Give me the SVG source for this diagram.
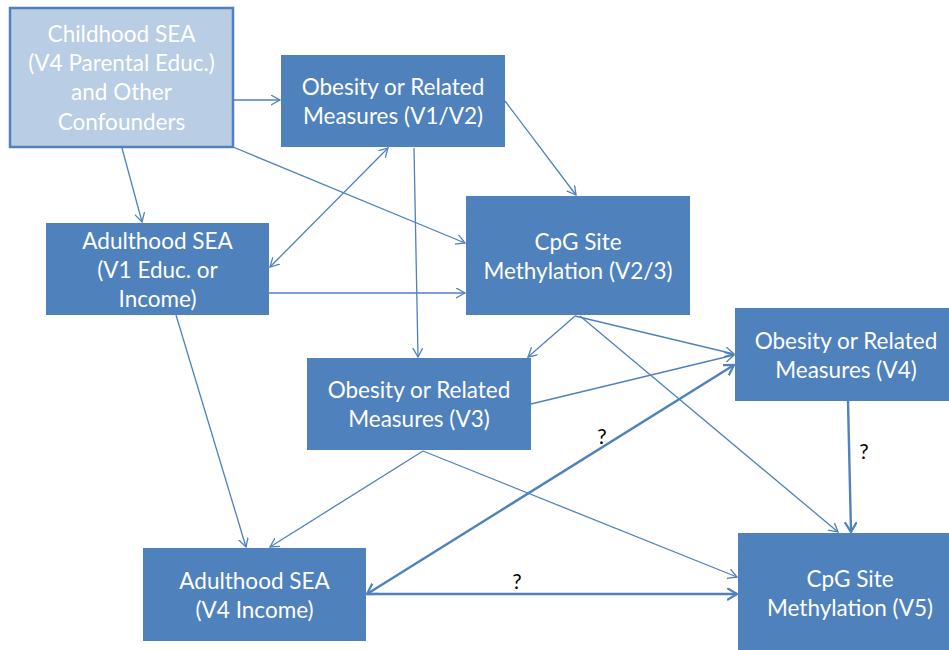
<svg xmlns="http://www.w3.org/2000/svg" width="949" height="650" viewBox="0 0 949 650">
<style>
.n{fill:#4f81bd;}
.lt{fill:#b9cde5;stroke:#4f81bd;stroke-width:2.5;}
.t{font-family:Lato,"Liberation Sans",sans-serif;font-size:22.5px;fill:#ffffff;text-anchor:middle;}
.c{fill:none;stroke:#4f81bd;stroke-width:1.3;}
.k{fill:none;stroke:#4f81bd;stroke-width:2.4;}
.q{font-family:Lato,"Liberation Sans",sans-serif;font-size:21px;fill:#000;text-anchor:middle;}
</style>
<defs>
<marker id="a" markerUnits="userSpaceOnUse" markerWidth="12" markerHeight="12" refX="9" refY="5" orient="auto-start-reverse" viewBox="0 0 12 12">
<path d="M0,0 L9,5 L0,10" fill="none" stroke="#4f81bd" stroke-width="1.3"/>
</marker>
<marker id="b" markerUnits="userSpaceOnUse" markerWidth="14" markerHeight="14" refX="10" refY="6" orient="auto-start-reverse" viewBox="0 0 14 14">
<path d="M0,0 L10,6 L0,12" fill="none" stroke="#4f81bd" stroke-width="2.2"/>
</marker>
</defs>
<rect width="949" height="650" fill="#ffffff"/>
<g id="connectors">
<line class="c" x1="233" y1="100" x2="280" y2="100" marker-end="url(#a)"/>
<line class="c" x1="122" y1="148" x2="142" y2="222" marker-end="url(#a)"/>
<line class="c" x1="233" y1="147" x2="465" y2="243" marker-end="url(#a)"/>
<line class="c" x1="388" y1="148" x2="270" y2="267" marker-start="url(#a)" marker-end="url(#a)"/>
<line class="c" x1="414" y1="148" x2="418" y2="357" marker-end="url(#a)"/>
<line class="c" x1="505" y1="101" x2="576" y2="195" marker-end="url(#a)"/>
<line class="c" x1="269" y1="293" x2="465" y2="293" marker-end="url(#a)"/>
<line class="c" x1="176" y1="315" x2="246" y2="547" marker-end="url(#a)"/>
<line class="c" x1="575" y1="316" x2="528" y2="357" marker-end="url(#a)"/>
<line class="c" x1="575" y1="316" x2="734" y2="354" marker-end="url(#a)"/>
<line class="c" x1="580" y1="316" x2="838" y2="532" marker-end="url(#a)"/>
<line class="c" x1="531" y1="404" x2="734" y2="355" marker-end="url(#a)"/>
<line class="c" x1="423" y1="451" x2="270" y2="547" marker-end="url(#a)"/>
<line class="c" x1="423" y1="451" x2="737" y2="577" marker-end="url(#a)"/>
<line class="k" x1="367" y1="594" x2="734" y2="365" marker-start="url(#b)" marker-end="url(#b)"/>
<line class="k" x1="367" y1="594" x2="737" y2="594" marker-end="url(#b)"/>
<line class="k" x1="848" y1="401" x2="851" y2="532" marker-end="url(#b)"/>
<text class="q" x="602" y="444">?</text>
<text class="q" x="517" y="589">?</text>
<text class="q" x="864" y="459">?</text>
</g>
<g id="n1">
<rect class="lt" x="10" y="8" width="223" height="139"/>
<text class="t" x="121.5" y="42">Childhood SEA</text>
<text class="t" x="121.5" y="71">(V4 Parental Educ.)</text>
<text class="t" x="121.5" y="100">and Other</text>
<text class="t" x="121.5" y="130">Confounders</text>
</g>
<g id="n2">
<rect class="n" x="281" y="55" width="224" height="92"/>
<text class="t" x="393" y="95">Obesity or Related</text>
<text class="t" x="393" y="124">Measures (V1/V2)</text>
</g>
<g id="n3">
<rect class="n" x="46" y="223" width="223" height="92"/>
<text class="t" x="157.5" y="249">Adulthood SEA</text>
<text class="t" x="157.5" y="278">(V1 Educ. or</text>
<text class="t" x="157.5" y="307">Income)</text>
</g>
<g id="n4">
<rect class="n" x="466" y="196" width="224" height="119"/>
<text class="t" x="578" y="250">CpG Site</text>
<text class="t" x="578" y="279">Methylation (V2/3)</text>
</g>
<g id="n5">
<rect class="n" x="307" y="358" width="224" height="92"/>
<text class="t" x="419" y="398">Obesity or Related</text>
<text class="t" x="419" y="427">Measures (V3)</text>
</g>
<g id="n6">
<rect class="n" x="735" y="308" width="220" height="93"/>
<text class="t" x="846" y="349">Obesity or Related</text>
<text class="t" x="846" y="378">Measures (V4)</text>
</g>
<g id="n7">
<rect class="n" x="143" y="548" width="223" height="93"/>
<text class="t" x="254.5" y="589">Adulthood SEA</text>
<text class="t" x="254.5" y="618">(V4 Income)</text>
</g>
<g id="n8">
<rect class="n" x="738" y="533" width="220" height="120"/>
<text class="t" x="850" y="587">CpG Site</text>
<text class="t" x="850" y="616">Methylation (V5)</text>
</g>
</svg>
